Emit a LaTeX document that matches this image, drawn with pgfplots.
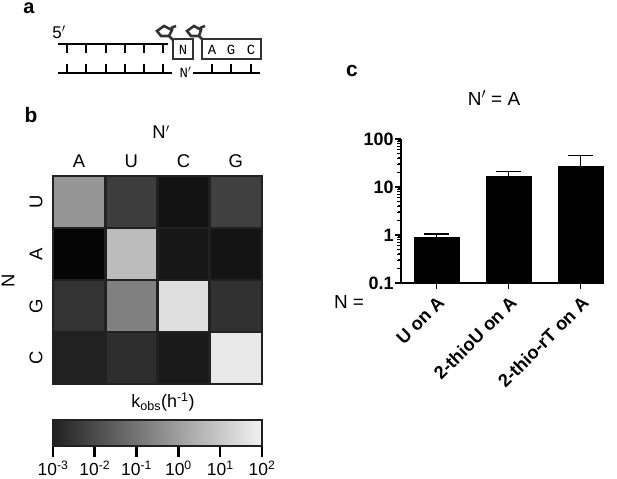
\documentclass[border=0pt]{standalone}
\usepackage{fontspec}
\setmainfont{Liberation Sans}
\newfontfamily\monof{Liberation Mono}
\usepackage{pgfplots}
\pgfplotsset{compat=1.18}
\definecolor{cellline}{gray}{0.13}
\pgfplotsset{colormap={kobs}{gray=(0.02) gray=(0.95)}}
\pgfplotsset{colormap={kobsbar}{gray=(0.13) gray=(0.95)}}
\begin{document}
\begin{tikzpicture}[x=1bp,y=1bp]
\useasboundingbox (0,0) rectangle (617bp,479bp);

% heat map, log10 kobs
\begin{axis}[
  at={(53bp,95bp)}, anchor=south west,
  scale only axis, width=209bp, height=208bp,
  xmin=-0.5, xmax=3.5, ymin=-0.5, ymax=3.5, y dir=reverse,
  xtick={0,1,2,3}, xticklabels={A,U,C,G}, xticklabel pos=upper,
  ytick={0,1,2,3}, yticklabels={U,A,G,C},
  tick style={draw=none},
  tick label style={font=\fontsize{18.5}{20}\selectfont},
  xticklabel style={yshift=5bp},
  yticklabel style={rotate=90, anchor=south, yshift=7bp},
  axis line style={draw=cellline, line width=1.5bp},
  colormap name=kobs,
  point meta min=-3, point meta max=2,
]
\addplot[matrix plot*, draw=cellline, line width=2.6bp, mesh/cols=4, point meta=explicit]
  table[meta=m] {
x y m
0 0 0.01
1 0 -1.82
2 0 -2.73
3 0 -1.76
0 1 -3
1 1 0.82
2 1 -2.62
3 1 -2.68
0 2 -2.03
1 2 -0.42
2 2 1.57
3 2 -2.09
0 3 -2.41
1 3 -2.14
2 3 -2.57
3 3 1.78
};
\end{axis}

% colour scale
\begin{axis}[
  at={(53bp,33bp)}, anchor=south west,
  scale only axis, width=209bp, height=26bp,
  xmin=-3, xmax=2, ymin=0, ymax=1,
  ytick=\empty,
  xtick={-3,-2,-1,0,1,2},
  xticklabels={10\textsuperscript{-3},10\textsuperscript{-2},10\textsuperscript{-1},10\textsuperscript{0},10\textsuperscript{1},10\textsuperscript{2}},
  xtick pos=lower, xtick align=outside,
  major tick length=11bp,
  tick style={draw=black, line width=2.6bp},
  xticklabel style={font=\fontsize{17.5}{19}\selectfont, inner sep=0pt, yshift=-4bp},
  axis line style={draw=cellline, line width=2.6bp},
  axis on top,
  colormap name=kobsbar,
  point meta min=-3, point meta max=2,
]
\addplot[surf, shader=interp, mesh/rows=2, point meta=x] coordinates {
  (-3,0) (-2,0) (-1,0) (0,0) (1,0) (2,0)
  (-3,1) (-2,1) (-1,1) (0,1) (1,1) (2,1)
};
\end{axis}

% bars
\begin{axis}[
  at={(401bp,196bp)}, anchor=south west,
  scale only axis, width=203bp, height=144bp,
  ymode=log, log origin=infty,
  xmin=-0.493, xmax=2.326, ymin=0.1, ymax=100,
  axis x line*=bottom, axis y line*=left,
  axis line style={line width=2bp},
  xtick={0,1,2},
  xticklabels={U on A,2-thioU on A,2-thio-rT on A},
  xticklabel style={rotate=45, anchor=north east, font=\fontsize{18.3}{20}\selectfont\bfseries, xshift=-0.6bp, yshift=-0.8bp},
  ytick={0.1,1,10,100}, yticklabels={0.1,1,10,100},
  extra y ticks={0.2,0.3,0.4,0.5,0.6,0.7,0.8,0.9,2,3,4,5,6,7,8,9,20,30,40,50,60,70,80,90},
  extra y tick labels={},
  extra y tick style={major tick length=4bp, tick style={black, line width=1bp}},
  yticklabel style={font=\fontsize{18}{20}\selectfont\bfseries, xshift=2bp},
  major tick length=6bp,
  tick style={black, line width=1.5bp},
  tick align=outside,
  clip=false,
]
\addplot[ybar, bar width=45bp, bar shift=0pt, fill=black, draw=black,
  error bars/.cd, y dir=plus, y explicit,
  error bar style={line width=1.3bp},
  error mark options={rotate=90, mark size=12.5bp, line width=1.3bp}]
  coordinates {
  (0,0.9) +- (0,0.15)
  (1,16.5) +- (0,4.3)
  (2,27) +- (0,18)
};
\end{axis}

% schematic and free labels, in picture pixels
\begin{axis}[
  at={(0bp,0bp)}, anchor=south west,
  scale only axis, width=617bp, height=479bp,
  xmin=0, xmax=617, ymin=0, ymax=479, y dir=reverse,
  hide axis, clip=false,
]
\draw[line width=2.8bp] (58,44) -- (168,44) (58,73) -- (172,73) (193,73) -- (260,73);
\draw[line width=2.5bp]
  (67,44) -- (67,53) (86,44) -- (86,53) (106,44) -- (106,53)
  (125,44) -- (125,53) (144,44) -- (144,53) (163,44) -- (163,53)
  (67,64) -- (67,73) (86,64) -- (86,73) (106,64) -- (106,73)
  (125,64) -- (125,73) (144,64) -- (144,73) (163,64) -- (163,73)
  (212,64) -- (212,73) (231,64) -- (231,73) (251,64) -- (251,73);
\draw[line width=2.4bp, draw=black!80] (173,39) rectangle (193,59) (202,39) rectangle (261,59);
\draw[line width=2.6bp, draw=black!80]
  (157,31) -- (164,26) -- (172,30) -- (169,36) -- (161,36) -- cycle
  (171,28) -- (176,26) (169,36) -- (173,40)
  (187,31) -- (194,26) -- (201,30) -- (199,36) -- (191,36) -- cycle
  (200,28) -- (205,26) (199,36) -- (203,40);
\node[font=\monof\fontsize{14}{16}\selectfont] at (183,49.5) {N};
\node[font=\monof\fontsize{14}{16}\selectfont] at (212,49.5) {A};
\node[font=\monof\fontsize{14}{16}\selectfont] at (231,49.5) {G};
\node[font=\monof\fontsize{14}{16}\selectfont] at (251,49.5) {C};
\node[font=\monof\fontsize{14}{16}\selectfont] at (185.5,72) {N$'$};
\node[font=\fontsize{17}{19}\selectfont] at (59,32) {5$'$};
\node[font=\fontsize{20}{21}\selectfont\bfseries, anchor=base, inner sep=0pt] at (29,14) {a};
\node[font=\fontsize{21}{22}\selectfont\bfseries, anchor=base, inner sep=0pt] at (31,122) {b};
\node[font=\fontsize{21}{22}\selectfont\bfseries, anchor=base, inner sep=0pt] at (352,77) {c};
\node[font=\fontsize{18.5}{20}\selectfont] at (161,132) {N$'$};
\node[font=\fontsize{18.5}{20}\selectfont, rotate=90] at (8,281) {N};
\node[font=\fontsize{18}{20}\selectfont] at (163,402) {k\textsubscript{obs}(h\textsuperscript{-1})};
\node[font=\fontsize{19}{21}\selectfont] at (494,98) {N$'$ = A};
\node[font=\fontsize{19}{21}\selectfont] at (349,302) {N =};
\end{axis}
\end{tikzpicture}
\end{document}
